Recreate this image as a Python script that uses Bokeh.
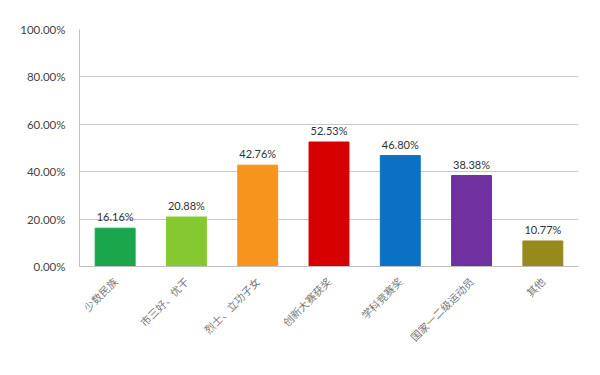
import math
from bokeh.plotting import figure
from bokeh.models import ColumnDataSource, NumeralTickFormatter, FixedTicker, Range1d
from bokeh.core.properties import value
from bokeh.embed import file_html
from bokeh.resources import INLINE

categories = ["少数民族", "市三好、优干", "烈士、立功子女", "创新大赛获奖", "学科竞赛奖", "国家一二级运动员", "其他"]
values = [0.1616, 0.2088, 0.4276, 0.5253, 0.4680, 0.3838, 0.1077]
labels = ["16.16%", "20.88%", "42.76%", "52.53%", "46.80%", "38.38%", "10.77%"]
colors = ["#1aa64b", "#86c832", "#f7941d", "#d60000", "#0a72c4", "#7030a0", "#968a1c"]
y_ticks = [0, 0.2, 0.4, 0.6, 0.8, 1.0]

src = ColumnDataSource(dict(cat=categories, val=values, lab=labels, col=colors))

p = figure(x_range=categories, y_range=Range1d(0, 1.0), width=592, height=367,
           output_backend="svg", toolbar_location=None,
           min_border_left=79, min_border_right=14, min_border_top=29, min_border_bottom=101)

p.vbar(x="cat", top="val", width=0.56, color="col", source=src)
p.text(x="cat", y="val", text="lab", source=src, text_align="center", text_baseline="bottom",
       y_offset=-5, text_font_size="11px", text_color="#333333", text_font=value("Lato"))

p.outline_line_color = None
p.background_fill_color = "white"
p.border_fill_color = "white"

p.yaxis.ticker = FixedTicker(ticks=y_ticks)
p.yaxis.formatter = NumeralTickFormatter(format="0.00%")
p.yaxis.major_tick_line_color = None
p.yaxis.minor_tick_line_color = None
p.yaxis.axis_line_color = "#bfbfbf"
p.yaxis.major_label_text_font = "Lato"
p.yaxis.major_label_text_font_size = "11.5px"
p.yaxis.major_label_text_color = "#444444"
p.yaxis.major_label_standoff = 8

p.xaxis.major_tick_line_color = None
p.xaxis.minor_tick_line_color = None
p.xaxis.axis_line_color = "#bfbfbf"
p.xaxis.major_label_orientation = math.pi / 4
p.xaxis.major_label_text_font = "Noto Sans CJK SC"
p.xaxis.major_label_text_font_size = "10.5px"
p.xaxis.major_label_text_color = "#777777"
p.xaxis.major_label_standoff = 7

p.xgrid.grid_line_color = None
p.ygrid.grid_line_color = "#c8c8c8"
p.ygrid.grid_line_width = 1

open("out.html", "w").write(file_html(p, INLINE))
